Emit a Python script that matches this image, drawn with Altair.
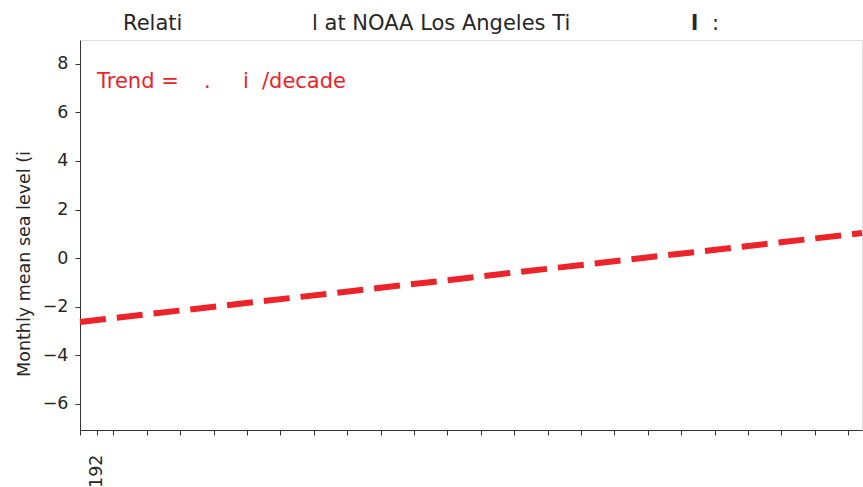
import altair as alt
import pandas as pd

# Trend line end points (year, monthly mean sea level in inches)
years = [1923.0, 2016.66]
trend_in = [-2.63, 1.03]

# Axis ticks
x_ticks = [1923, 1925, 1927, 1931, 1935, 1939, 1943, 1947, 1951, 1955, 1959,
           1963, 1967, 1971, 1975, 1979, 1983, 1987, 1991, 1995, 1999, 2003,
           2007, 2011, 2015]
y_ticks = [-6, -4, -2, 0, 2, 4, 6, 8]

# Visible text fragments
title_parts = ["Relati", "l at NOAA Los Angeles Ti", "l", ":"]
trend_parts = ["Trend =", ".", "i", "/decade"]
y_title = "Monthly mean sea level (i"

RED = "#EE2229"
TXT = "#262626"
AX = "#333333"
FONT = "DejaVu Sans"

df = pd.DataFrame({"year": years, "value": trend_in})

line = alt.Chart(df).mark_line(color=RED, strokeWidth=6, strokeDash=[26, 11]).encode(
    x=alt.X("year:Q",
            scale=alt.Scale(domain=[1923.0, 2016.66], nice=False, zero=False),
            axis=alt.Axis(values=x_ticks, title=None, grid=False,
                          labelExpr="datum.value == 1925 ? '192' : ''",
                          labelAngle=270, labelPadding=19, labelFontSize=17.5,
                          labelFont=FONT, labelColor=TXT, tickSize=5,
                          tickColor=AX, domainColor=AX, labelOverlap=False)),
    y=alt.Y("value:Q",
            scale=alt.Scale(domain=[-7.08, 8.98], nice=False, zero=False),
            axis=alt.Axis(values=y_ticks, title=None, grid=False,
                          labelExpr="datum.value < 0 ? '\u2212' + abs(datum.value) : '' + datum.value",
                          labelPadding=7, labelFontSize=17.5, labelFont=FONT,
                          labelColor=TXT, tickSize=5, tickColor=AX,
                          domainColor=AX, labelOverlap=False)),
)


def txt(s, x, y, size, color, weight="normal", angle=0, align="left", baseline="alphabetic"):
    return alt.Chart(pd.DataFrame({"t": [s]})).mark_text(
        font=FONT, fontSize=size, color=color, fontWeight=weight,
        align=align, baseline=baseline, angle=angle,
    ).encode(text="t:N", x=alt.value(x), y=alt.value(y))


layers = [line]
# title fragments
layers.append(txt(title_parts[0], 43, -10, 21, TXT))
layers.append(txt(title_parts[1], 232, -10, 21, TXT))
layers.append(txt(title_parts[2], 611, -10, 21, TXT, weight="bold"))
layers.append(txt(title_parts[3], 632, -10, 21, TXT))
# trend annotation fragments
layers.append(txt(trend_parts[0], 17, 48, 21, RED))
layers.append(txt(trend_parts[1], 124, 48, 21, RED))
layers.append(txt(trend_parts[2], 163, 48, 21, RED))
layers.append(txt(trend_parts[3], 182, 48, 21, RED))
# y axis title
layers.append(txt(y_title, -55, 224, 17.5, TXT, angle=270, align="center", baseline="middle"))

chart = alt.layer(*layers).properties(
    width=782, height=390,
    autosize=alt.AutoSizeParams(type="none"),
    padding={"left": 80, "top": 40, "right": 1, "bottom": 57},
).configure_view(stroke=AX, strokeWidth=1).configure(background="white")

chart.save("out.html", embed_options={"renderer": "svg", "actions": False})
